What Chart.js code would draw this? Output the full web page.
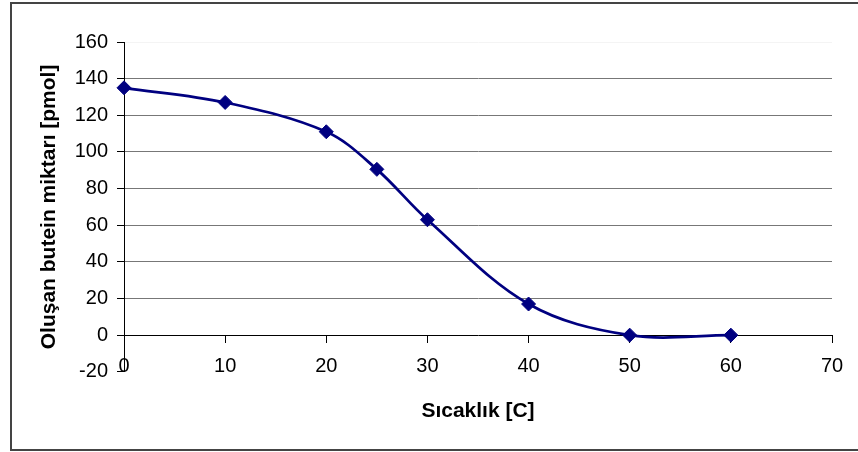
<!DOCTYPE html>
<html>
<head>
<meta charset="utf-8">
<script src="https://cdn.jsdelivr.net/npm/chart.js@4"></script>
<style>
    body { margin: 0; background: #fff; }
    #wrap { position: relative; width: 858px; height: 452px; overflow: hidden; }
    #frame { position: absolute; left: 10px; top: 2px; width: 860px; height: 445px; border: 2px solid #444; pointer-events: none; }
</style>
</head>
<body>
<div id="wrap">
    <canvas id="chart" width="858" height="452"></canvas>
    <div id="frame"></div>
</div>
<script>
// Sample data
const temps = [0, 10, 20, 25, 30, 40, 50, 60];
const butein = [135, 127, 111, 90.5, 63, 17, 0, 0];

const xTitle = 'Sıcaklık [C]';
const yTitle = 'Oluşan butein miktarı [pmol]';

Chart.defaults.font.family = "'Liberation Sans', Arial, sans-serif";
Chart.defaults.color = '#000';

const points = temps.map((t, i) => ({ x: t, y: butein[i] }));

const chart = new Chart(document.getElementById('chart'), {
    type: 'scatter',
    data: {
        datasets: [{
            data: points,
            showLine: true,
            borderColor: '#000080',
            backgroundColor: '#000080',
            borderWidth: 2.75,
            tension: 0.35,
            pointStyle: 'rectRot',
            pointRadius: 7,
            pointBorderWidth: 1,
            pointBackgroundColor: '#000080',
            pointBorderColor: '#000080',
            clip: false
        }]
    },
    options: {
        responsive: false,
        animation: false,
        layout: {
            padding: { left: 0, top: 42, right: 26, bottom: 28 }
        },
        plugins: {
            legend: { display: false },
            tooltip: { enabled: false },
            title: {
                display: true,
                text: xTitle,
                position: 'bottom',
                fullSize: false,
                font: { size: 21, weight: 'bold' },
                padding: { top: 27, bottom: 0 }
            }
        },
        scales: {
            x: {
                type: 'linear',
                position: { y: 0 },
                min: 0,
                max: 70,
                ticks: { stepSize: 10, padding: 12, font: { size: 20 } },
                grid: { drawOnChartArea: false, tickLength: 7, tickColor: '#000' },
                border: { color: '#000', width: 1 }
            },
            y: {
                min: -20,
                max: 160,
                ticks: { stepSize: 20, padding: 9, font: { size: 20 } },
                grid: {
                    tickLength: 7,
                    tickColor: '#000',
                    color: ctx => {
                        const v = ctx.tick ? ctx.tick.value : null;
                        if (v === -20 || v === 0) return 'rgba(0,0,0,0)';
                        if (v === 160) return '#f4f4f4';
                        return '#777';
                    }
                },
                border: { color: '#000', width: 1 },
                title: {
                    display: true,
                    text: yTitle,
                    font: { size: 21, weight: 'bold' },
                    padding: { top: 37, bottom: 0 }
                },
                afterFit: scale => { scale.width = 124; }
            }
        }
    }
});
</script>
</body>
</html>
